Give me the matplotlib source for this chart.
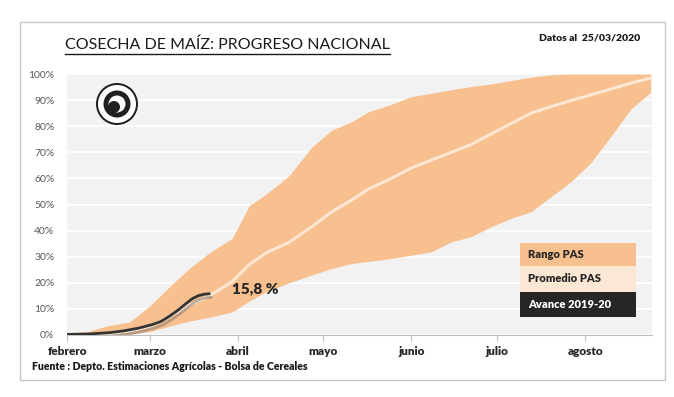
import numpy as np
import matplotlib
matplotlib.use('Agg')
import matplotlib.pyplot as plt
import matplotlib.patheffects as pe
from matplotlib.patches import Rectangle, Circle

# days counted from 1 February 2020
days = [0, 7, 14, 22, 29, 36, 43, 50, 58, 64, 70, 78, 86, 93, 100, 106, 113,
        121, 128, 135, 142, 149, 156, 163, 170, 177, 184, 191, 198, 205]
rango_max = [1.0, 1.2, 3.5, 5.0, 11, 18.5, 25.5, 31.5, 37, 49.5, 54, 61, 72, 78.5,
             81.7, 85.6, 88, 91.3, 92.6, 94, 95.2, 96.2, 97.5, 98.8, 99.7, 100,
             100, 100, 100, 100]
rango_min = [0, 0, 0, 0.3, 1.3, 3.4, 5.3, 6.8, 8.8, 13, 16.6, 20, 23, 25.5, 27.4,
             28.2, 29.2, 30.6, 31.9, 35.7, 37.7, 41.5, 44.7, 47.2, 53, 58.7, 66,
             76, 86.5, 93]
promedio = [0, 0.1, 0.4, 1.4, 3.2, 7, 11.5, 15, 20.4, 27, 31.5, 35.5, 41.5, 47.2,
            51.7, 56, 59.5, 64, 67, 70, 73, 77, 81, 85, 87.5, 89.8, 92, 94.2,
            96.5, 98.4]

avance_days = [0, 8, 15, 20, 25, 30, 33, 36, 39, 42, 44, 46, 48, 50]
avance = [0.2, 0.4, 0.9, 1.6, 2.6, 4, 5.2, 7.2, 9.5, 12.2, 13.9, 15.0, 15.6, 15.8]

meses = ['febrero', 'marzo', 'abril', 'mayo', 'junio', 'julio', 'agosto']
mes_dias = [0, 29, 60, 90, 121, 151, 182]

leyenda = ['Rango PAS', 'Promedio PAS', 'Avance 2019-20']

band_color = '#F8BF8F'
mean_color = '#FCE6D4'
dark = '#262626'
W = 'heavy'

plt.rcParams['font.family'] = ['Lato', 'DejaVu Sans']

fig = plt.figure(figsize=(6.74, 3.97), dpi=100)

# overlay axes in pixel coordinates for frame
over = fig.add_axes([0, 0, 1, 1], facecolor='none', zorder=0)
over.set_axis_off()
over.set_xlim(0, 674)
over.set_ylim(397, 0)
over.add_patch(Rectangle((20, 22), 645, 358, fill=False, edgecolor='#C8C8C8', linewidth=1))

ax = fig.add_axes([67 / 674, 62 / 397, 585 / 674, 261 / 397], zorder=1)
ax.set_facecolor('#F2F2F2')

ax.fill_between(days, rango_min, rango_max, color=band_color, linewidth=0, zorder=2)
ax.plot(days, promedio, color=mean_color, linewidth=2.2, zorder=3)
ax.plot(avance_days, avance, color='#333333', linewidth=2.0, zorder=4,
        solid_capstyle='round',
        path_effects=[pe.SimpleLineShadow(offset=(1.5, -2.5), shadow_color='#6a6a6a', alpha=0.45),
                      pe.Normal()])

ax.text(avance_days[-1] + 8, avance[-1] + 2, '15,8 %', fontsize=11, fontweight=W,
        color='#262626', va='center', ha='left', zorder=5)

ax.set_xlim(0, 205.5)
ax.set_ylim(0, 100)
ax.set_yticks(np.arange(0, 101, 10))
ax.set_yticklabels([f'{v}%' for v in range(0, 101, 10)])
ax.grid(axis='y', color='white', linewidth=1.2, zorder=1)
ax.set_axisbelow(True)
ax.set_xticks(mes_dias)
ax.set_xticklabels(meses, fontweight=W)
ax.tick_params(axis='x', direction='out', length=4, color='#BFBFBF', labelsize=8.5,
               pad=4, labelcolor='#262626')
ax.tick_params(axis='y', length=0, labelsize=7.5, labelcolor='#595959', pad=9)
for s in ['top', 'right', 'left']:
    ax.spines[s].set_visible(False)
ax.spines['bottom'].set_color('#BFBFBF')

# legend boxes, logo and texts
top = fig.add_axes([0, 0, 1, 1], facecolor='none', zorder=2)
top.set_axis_off()
top.set_xlim(0, 674)
top.set_ylim(397, 0)
edges = [243, 266, 292, 317]
fills = [band_color, mean_color, dark]
text_cols = ['#262626', '#262626', 'white']
for i, lab in enumerate(leyenda):
    top.add_patch(Rectangle((520, edges[i]), 116, edges[i + 1] - edges[i],
                            facecolor=fills[i], edgecolor='none'))
    top.text(528, (edges[i] + edges[i + 1]) / 2, lab, fontsize=8, fontweight=W,
             color=text_cols[i], va='center', ha='left')

# logo (simplified emblem)
for r, col in [(21, '#202020'), (19, 'white'), (13.5, '#202020'), (8.5, 'white')]:
    top.add_patch(Circle((117, 104), r, facecolor=col, edgecolor='none'))
top.add_patch(Circle((114, 107), 6, facecolor='#202020', edgecolor='none'))

title = top.text(65, 45, 'COSECHA DE MAÍZ: PROGRESO NACIONAL',
                 fontsize=11.5, color='#1a1a1a', va='center', ha='left')
top.text(640, 38, 'Datos al  25/03/2020', fontsize=7.5, fontweight=W,
         color='#1a1a1a', va='center', ha='right')
top.text(32, 367, 'Fuente : Depto. Estimaciones Agrícolas - Bolsa de Cereales',
         fontsize=7.6, fontweight=W, color='#1a1a1a', va='center', ha='left')

# underline the title
fig.canvas.draw()
bb = title.get_window_extent().transformed(top.transData.inverted())
top.plot([bb.x0, bb.x1], [bb.y0 + 1.5, bb.y0 + 1.5], color='#1a1a1a', linewidth=1)

fig.savefig('out.png', dpi=100)
